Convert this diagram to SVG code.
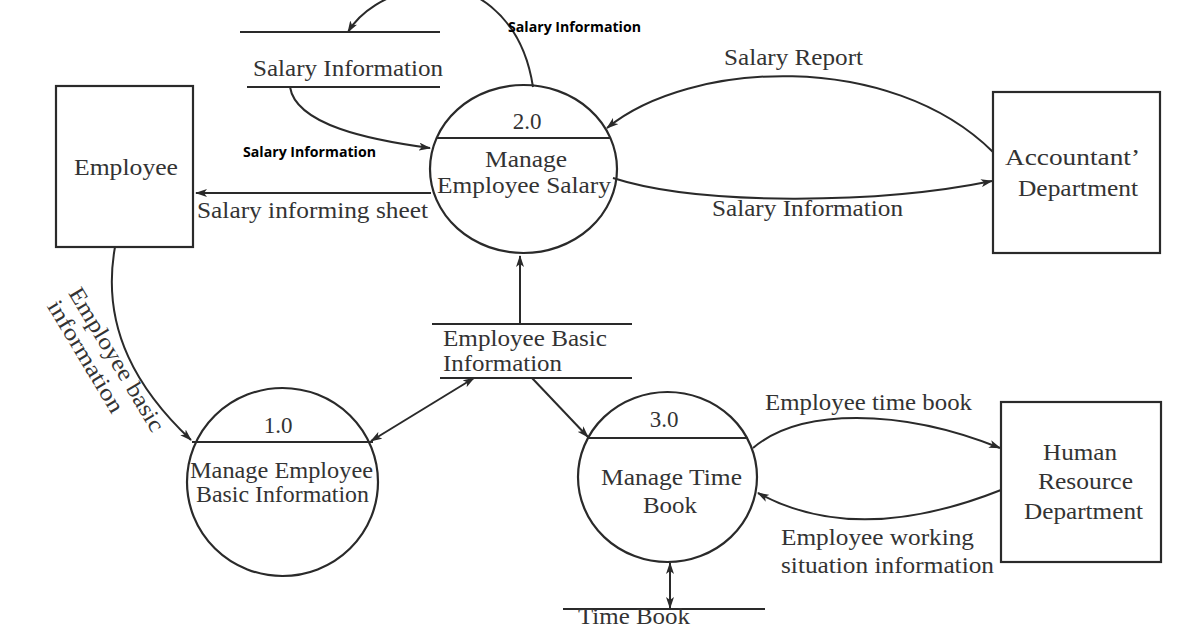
<svg xmlns="http://www.w3.org/2000/svg" width="1200" height="630" viewBox="0 0 1200 630">
<style>
.bg{fill:#ffffff}
.box{fill:none;stroke:#2a2a2a;stroke-width:2.2}
.proc{fill:none;stroke:#2a2a2a;stroke-width:2.2}
.store{stroke:#2a2a2a;stroke-width:2.2}
.flow{fill:none;stroke:#2a2a2a;stroke-width:2}
.t{font-family:"Liberation Serif","Times New Roman",serif;font-size:23px;fill:#333333}
.b{font-family:"Open Sans","Liberation Sans",sans-serif;font-size:14px;font-weight:bold;fill:#000}
</style>
<defs>
<marker id="ah" viewBox="0 0 12 8" refX="11" refY="4" markerWidth="12" markerHeight="8" markerUnits="userSpaceOnUse" orient="auto-start-reverse">
<path d="M0,0 L12,4 L0,8 L3,4 Z" fill="#2a2a2a"/>
</marker>
</defs>
<rect class="bg" x="0" y="0" width="1200" height="630"/>

<g id="connectors">
<path id="c-loop" class="flow" d="M 533 87 C 522 15 470 -22 420 -12 C 385 -5 360 12 348 32" marker-end="url(#ah)"/>
<path id="c-store-2" class="flow" d="M 290 87 C 296 125 370 140 430 148" marker-end="url(#ah)"/>
<path id="c-2-emp" class="flow" d="M 431 193 L 196 193" marker-end="url(#ah)"/>
<path id="c-acc-2" class="flow" d="M 993 152 C 890 50 690 60 607 128" marker-end="url(#ah)"/>
<path id="c-2-acc" class="flow" d="M 613 178 C 700 206 880 204 992 181" marker-end="url(#ah)"/>
<path id="c-emp-1" class="flow" d="M 115 247 C 100 330 140 392 191 440" marker-end="url(#ah)"/>
<path id="c-1-store" class="flow" d="M 371 441 L 474 378" marker-start="url(#ah)" marker-end="url(#ah)"/>
<path id="c-store-2up" class="flow" d="M 520 324 L 520 256" marker-end="url(#ah)"/>
<path id="c-store-3" class="flow" d="M 532 378 L 588 437" marker-end="url(#ah)"/>
<path id="c-3-hr" class="flow" d="M 753 448 C 800 408 900 408 1000 448" marker-end="url(#ah)"/>
<path id="c-hr-3" class="flow" d="M 1001 490 C 900 530 820 527 758 493" marker-end="url(#ah)"/>
<path id="c-3-tb" class="flow" d="M 670 563 L 670 608" marker-start="url(#ah)" marker-end="url(#ah)"/>

<text class="b" x="508" y="32" textLength="133" lengthAdjust="spacingAndGlyphs">Salary Information</text>
<text class="b" x="243" y="157" textLength="133" lengthAdjust="spacingAndGlyphs">Salary Information</text>
<text class="t" x="197" y="218" textLength="231" lengthAdjust="spacingAndGlyphs">Salary informing sheet</text>
<text class="t" x="724" y="65" textLength="139" lengthAdjust="spacingAndGlyphs">Salary Report</text>
<text class="t" x="712" y="216" textLength="191" lengthAdjust="spacingAndGlyphs">Salary Information</text>
<g transform="translate(68,293) rotate(59)">
<text class="t" x="0" y="0" textLength="164" lengthAdjust="spacingAndGlyphs">Employee basic</text>
<text class="t" x="0" y="25" textLength="127" lengthAdjust="spacingAndGlyphs">information</text>
</g>
<text class="t" x="765" y="410" textLength="207" lengthAdjust="spacingAndGlyphs">Employee time book</text>
<text class="t" x="781" y="545" textLength="193" lengthAdjust="spacingAndGlyphs">Employee working</text>
<text class="t" x="781" y="573" textLength="213" lengthAdjust="spacingAndGlyphs">situation information</text>
</g>

<g id="employee">
<rect class="box" x="56" y="86" width="137" height="161"/>
<text class="t" x="74" y="175" textLength="104" lengthAdjust="spacingAndGlyphs">Employee</text>
</g>

<g id="accountant">
<rect class="box" x="993" y="92" width="167" height="161"/>
<text class="t" x="1005" y="165" textLength="135" lengthAdjust="spacingAndGlyphs">Accountant’</text>
<text class="t" x="1018" y="196" textLength="120" lengthAdjust="spacingAndGlyphs">Department</text>
</g>

<g id="hr">
<rect class="box" x="1001" y="402" width="160" height="160"/>
<text class="t" x="1043" y="460" textLength="74" lengthAdjust="spacingAndGlyphs">Human</text>
<text class="t" x="1038" y="489" textLength="95" lengthAdjust="spacingAndGlyphs">Resource</text>
<text class="t" x="1024" y="519" textLength="119" lengthAdjust="spacingAndGlyphs">Department</text>
</g>

<g id="p2">
<ellipse class="proc" cx="523.5" cy="169" rx="93.5" ry="84"/>
<line class="store" x1="437" y1="138" x2="610" y2="138"/>
<text class="t" x="527" y="129" text-anchor="middle" font-size="25">2.0</text>
<text class="t" x="485" y="167" textLength="82" lengthAdjust="spacingAndGlyphs">Manage</text>
<text class="t" x="437" y="193" textLength="174" lengthAdjust="spacingAndGlyphs">Employee Salary</text>
</g>

<g id="p1">
<ellipse class="proc" cx="282.5" cy="482" rx="95.5" ry="94"/>
<line class="store" x1="192" y1="442" x2="373" y2="442"/>
<text class="t" x="278" y="433" text-anchor="middle" font-size="25">1.0</text>
<text class="t" x="190" y="478" textLength="183" lengthAdjust="spacingAndGlyphs">Manage Employee</text>
<text class="t" x="196" y="502" textLength="173" lengthAdjust="spacingAndGlyphs">Basic Information</text>
</g>

<g id="p3">
<ellipse class="proc" cx="667.5" cy="477" rx="89.5" ry="85"/>
<line class="store" x1="587" y1="438" x2="748" y2="438"/>
<text class="t" x="664" y="427" text-anchor="middle" font-size="25">3.0</text>
<text class="t" x="601" y="485" textLength="141" lengthAdjust="spacingAndGlyphs">Manage Time</text>
<text class="t" x="643" y="513" textLength="54" lengthAdjust="spacingAndGlyphs">Book</text>
</g>

<g id="ds-salary">
<line class="store" x1="240" y1="32" x2="440" y2="32"/>
<line class="store" x1="247" y1="87" x2="440" y2="87"/>
<text class="t" x="253" y="76" textLength="190" lengthAdjust="spacingAndGlyphs">Salary Information</text>
</g>

<g id="ds-basic">
<line class="store" x1="432" y1="324" x2="632" y2="324"/>
<line class="store" x1="440" y1="378" x2="632" y2="378"/>
<text class="t" x="443" y="346" textLength="164" lengthAdjust="spacingAndGlyphs">Employee Basic</text>
<text class="t" x="443" y="371" textLength="119" lengthAdjust="spacingAndGlyphs">Information</text>
</g>

<g id="ds-timebook">
<line class="store" x1="563" y1="609" x2="765" y2="609"/>
<text class="t" x="578" y="624" font-size="18" textLength="112" lengthAdjust="spacingAndGlyphs">Time Book</text>
</g>
</svg>
